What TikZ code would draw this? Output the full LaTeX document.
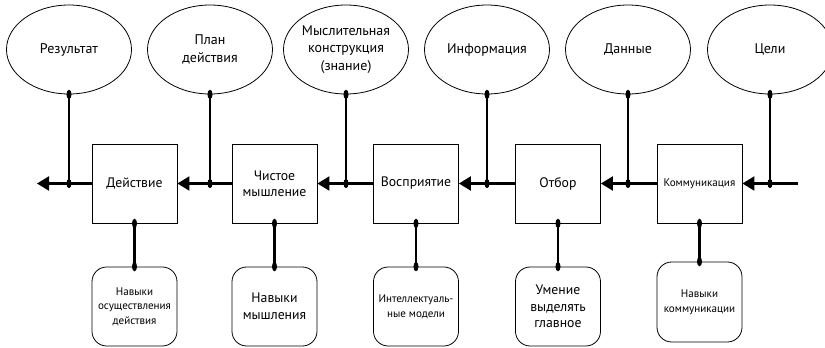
\documentclass[tikz,border=0pt]{standalone}
\usepackage{fontspec}
\setmainfont{PT Sans}
\usetikzlibrary{shapes, arrows.meta}
\tikzstyle{factor} = [ellipse, draw, line width=0.6pt, inner sep=0pt,
    minimum width=93.75pt, minimum height=66.75pt, align=center,
    font=\fontsize{10.5}{13}\selectfont]
\tikzstyle{stage} = [rectangle, draw, line width=0.6pt, inner sep=1pt,
    minimum width=63.75pt, minimum height=59.25pt, align=center,
    font=\fontsize{10.3}{12}\selectfont]
\tikzstyle{skill} = [rectangle, draw, rounded corners=11pt, line width=0.6pt,
    inner sep=1pt, minimum width=63.75pt, minimum height=59.25pt, align=center,
    font=\fontsize{10.3}{12.5}\selectfont]
\tikzstyle{small} = [font=\fontsize{8.3}{11}\selectfont]
\tikzstyle{dot} = [ellipse, fill, inner sep=0pt, minimum width=3.8pt, minimum height=7pt]
\tikzstyle{line} = [draw, line width=1.6pt, -{Triangle[length=9pt, width=10.5pt]}]
\tikzstyle{link} = [draw, line width=1.6pt]

\begin{document}
\begin{tikzpicture}[x=0.75pt, y=-0.75pt]
    \useasboundingbox (0,0) rectangle (825,347);
    % Factors
    \node [factor] (res) at (69,49.5) {Результат};
    \node [factor] (plan) at (210,49.5) {План\\действия};
    \node [factor] (know) at (346,49.5) {Мыслительная\\конструкция\\(знание)};
    \node [factor] (info) at (487,49.5) {Информация};
    \node [factor] (data) at (628,49.5) {Данные};
    \node [factor] (goal) at (770,49.5) {Цели};
    % Stages
    \node [stage] (act) at (134.5,183.5) {Действие};
    \node [stage] (think) at (274.5,183.5) {Чистое\\мышление};
    \node [stage] (perc) at (416,183.5) {Восприятие};
    \node [stage] (sel) at (558,183.5) {Отбор};
    \node [stage, small] (comm) at (699.5,183.5) {Коммуникация};
    % Skills
    \node [skill, small] (skact) at (134.5,306.5) {Навыки\\осуществления\\действия};
    \node [skill] (skthink) at (274.5,306.5) {Навыки\\мышления};
    \node [skill, small] (skperc) at (416,306.5) {Интеллектуаль-\\ные модели};
    \node [skill] (sksel) at (558,306.5) {Умение\\выделять\\главное};
    \node [skill, small, minimum height=60pt] (skcomm) at (699.5,302) {Навыки\\коммуникации};
    % Main line
    \coordinate (out) at (37,183.5);
    \coordinate (in) at (798,183.5);
    \path [line] (act.west) -- (out);
    \path [line] (think.west) -- (act.east);
    \path [line] (perc.west) -- (think.east);
    \path [line] (sel.west) -- (perc.east);
    \path [line] (comm.west) -- (sel.east);
    \path [line] (in) -- (comm.east);
    % Joints
    \node [dot] (jres) at (res.south |- act.west) {};
    \node [dot] (jplan) at (plan.south |- act.west) {};
    \node [dot] (jknow) at (know.south |- act.west) {};
    \node [dot] (jinfo) at (info.south |- act.west) {};
    \node [dot] (jdata) at (data.south |- act.west) {};
    \node [dot] (jgoal) at (goal.south |- act.west) {};
    \path [link] (res.south) -- (jres.center);
    \path [link] (plan.south) -- (jplan.center);
    \path [link] (know.south) -- (jknow.center);
    \path [link] (info.south) -- (jinfo.center);
    \path [link] (data.south) -- (jdata.center);
    \path [link] (goal.south) -- (jgoal.center);
    \path [link] (act.south) -- (skact.north);
    \path [link] (think.south) -- (skthink.north);
    \path [link] (perc.south) -- (skperc.north);
    \path [link] (sel.south) -- (sksel.north);
    \path [link] (comm.south) -- (skcomm.north);
    % Dots
    \foreach \n in {res, plan, know, info, data, goal, act, think, perc, sel, comm}
        \node [dot] at (\n.south) {};
    \foreach \n in {skact, skthink, skperc, sksel, skcomm}
        \node [dot] at (\n.north) {};
\end{tikzpicture}
\end{document}
